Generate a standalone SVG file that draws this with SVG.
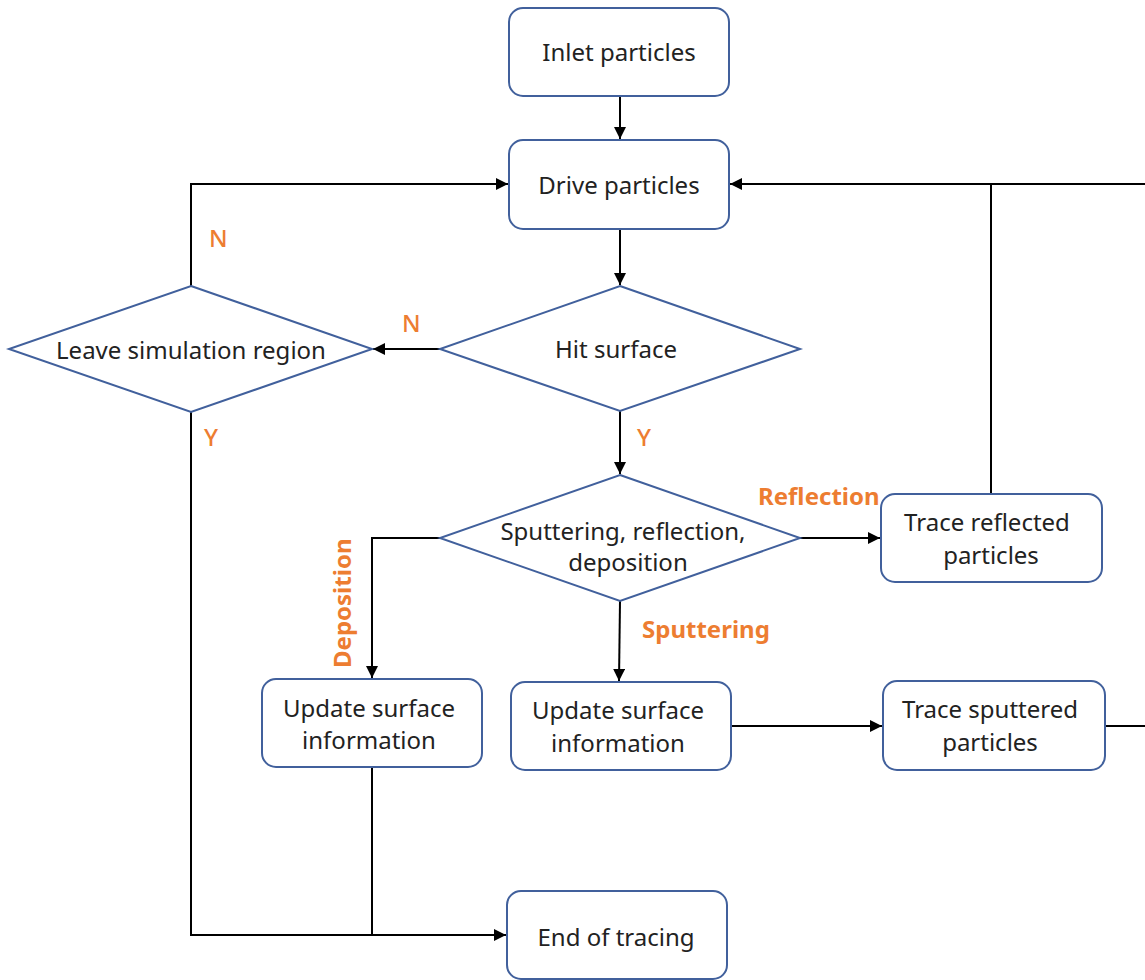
<svg xmlns="http://www.w3.org/2000/svg" width="1145" height="980" viewBox="0 0 1145 980">
<style>
.box{fill:#fff;stroke:#41609C;stroke-width:2}
.t{font-family:"Noto Sans","Open Sans",sans-serif;font-size:24px;fill:#222;text-anchor:middle}
.c{fill:none;stroke:#000;stroke-width:2}
.l{font-family:"Noto Sans","Open Sans",sans-serif;font-size:24px;fill:#ED7D31;font-weight:bold}
.yn{font-family:"Noto Sans","Open Sans",sans-serif;font-size:24px;fill:#ED7D31;font-weight:500}
</style>
<defs>
<marker id="a" viewBox="0 0 10 10" refX="10" refY="5" markerWidth="12" markerHeight="12" orient="auto" markerUnits="userSpaceOnUse">
<path d="M0,0 L10,5 L0,10 z" fill="#000"/>
</marker>
</defs>
<rect width="1145" height="980" fill="#fff"/>
<g id="connectors">
<path class="c" d="M620,96 V139" marker-end="url(#a)"/>
<path class="c" d="M620,229 V285" marker-end="url(#a)"/>
<path class="c" d="M440,349 H373" marker-end="url(#a)"/>
<path class="c" d="M191,286 V184 H508" marker-end="url(#a)"/>
<path class="c" d="M1145,184 H730" marker-end="url(#a)"/>
<path class="c" d="M991,494 V184"/>
<path class="c" d="M1105,726 H1147 V184"/>
<path class="c" d="M620,411 V474" marker-end="url(#a)"/>
<path class="c" d="M800,538 H880" marker-end="url(#a)"/>
<path class="c" d="M440,538 H372 V678" marker-end="url(#a)"/>
<path class="c" d="M620,601 L619,681" marker-end="url(#a)"/>
<path class="c" d="M731,726 H882" marker-end="url(#a)"/>
<path class="c" d="M372,767 V935"/>
<path class="c" d="M191,412 V935 H506" marker-end="url(#a)"/>
</g>
<g id="labels">
<text class="yn" x="209" y="247">N</text>
<text class="yn" x="402" y="332">N</text>
<text class="yn" x="204" y="446">Y</text>
<text class="yn" x="637" y="446">Y</text>
<text class="l" x="758" y="505">Reflection</text>
<text class="l" x="642" y="638">Sputtering</text>
<text class="l" transform="translate(351,668) rotate(-90)">Deposition</text>
</g>
<g id="inlet"><rect class="box" x="509" y="8" width="220" height="88" rx="14"/><text class="t" x="619" y="61">Inlet particles</text></g>
<g id="drive"><rect class="box" x="509" y="140" width="220" height="89" rx="14"/><text class="t" x="619" y="194">Drive particles</text></g>
<g id="hit"><polygon class="box" points="620,286 800,349 620,411 440,349"/><text class="t" x="616" y="358">Hit surface</text></g>
<g id="leave"><polygon class="box" points="191,286 372,349 191,412 9,349"/><text class="t" x="191" y="359">Leave simulation region</text></g>
<g id="spr"><polygon class="box" points="620,475 800,538 620,601 440,538"/><text class="t" x="623" y="540">Sputtering, reflection,</text><text class="t" x="628" y="571">deposition</text></g>
<g id="reflected"><rect class="box" x="881" y="494" width="221" height="88" rx="14"/><text class="t" x="987" y="531">Trace reflected</text><text class="t" x="991" y="564">particles</text></g>
<g id="update1"><rect class="box" x="262" y="679" width="220" height="88" rx="14"/><text class="t" x="369" y="717">Update surface</text><text class="t" x="369" y="749">information</text></g>
<g id="update2"><rect class="box" x="511" y="682" width="220" height="88" rx="14"/><text class="t" x="618" y="719">Update surface</text><text class="t" x="618" y="752">information</text></g>
<g id="sputtered"><rect class="box" x="883" y="681" width="222" height="89" rx="14"/><text class="t" x="990" y="718">Trace sputtered</text><text class="t" x="990" y="751">particles</text></g>
<g id="end"><rect class="box" x="507" y="891" width="220" height="88" rx="14"/><text class="t" x="616" y="946">End of tracing</text></g>
</svg>
